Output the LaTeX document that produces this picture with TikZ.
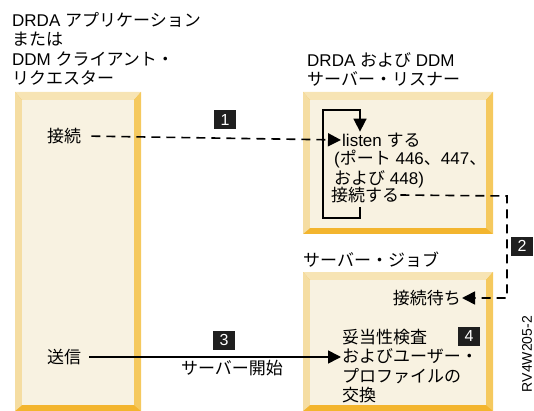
\documentclass[tikz,border=0pt]{standalone}
\usepackage{fontspec}
\setmainfont{Liberation Sans}
\newfontfamily\jpfont{Noto Sans CJK JP}
\newcommand{\jp}[1]{{\jpfont #1}}
\usetikzlibrary{arrows.meta}
\definecolor{bevtop}{HTML}{F7E4B4}
\definecolor{bevleft}{HTML}{F5DDA2}
\definecolor{bevright}{HTML}{F5C95E}
\definecolor{bevbottom}{HTML}{F3B52E}
\definecolor{boxin}{HTML}{F8F2E1}
\tikzstyle{txt} = [inner sep=1pt, font={\fontsize{17}{19.5}\selectfont}, align=left]
\tikzstyle{badge} = [fill=black!88, text=white, minimum width=22, minimum height=19, inner sep=0pt, font={\fontsize{16}{16}\selectfont}]
\tikzstyle{wire} = [line width=1.6pt]
\tikzstyle{dashline} = [wire, dash pattern=on 9pt off 6pt]
\tikzstyle{arrtip} = [-{Triangle[length=13pt,width=13pt]}]
% bevelled box: x1 y1 x2 y2
\newcommand{\bevelbox}[4]{%
  \fill[bevbottom] (#1,#2) rectangle (#3,#4);
  \fill[bevtop] (#1,#2) -- (#3,#2) -- (#3-7,#2+8) -- (#1+7,#2+8) -- cycle;
  \fill[bevleft] (#1,#2) -- (#1+7,#2+8) -- (#1+7,#4-6) -- (#1,#4) -- cycle;
  \fill[bevright] (#3,#2) -- (#3-7,#2+8) -- (#3-7,#4-6) -- (#3,#4) -- cycle;
  \fill[boxin] (#1+7,#2+8) rectangle (#3-7,#4-6);}

\begin{document}
\begin{tikzpicture}[x=1pt,y=-1pt]
    \useasboundingbox (0,0) rectangle (534,411);
    \bevelbox{15}{92}{141}{411}
    \bevelbox{303}{92}{493}{234}
    \bevelbox{303}{272}{493}{411}
    % titles
    \node[txt,anchor=north west](client) at (11,11){DRDA \jp{アプリケーション}\\\jp{または}\\DDM \jp{クライアント・}\\\jp{リクエスター}};
    \node[txt,anchor=north west](listener) at (306,51){DRDA \jp{および} DDM\\\jp{サーバー・リスナー}};
    \node[txt,anchor=west](job) at (302,260){\jp{サーバー・ジョブ}};
    % texts
    \node[txt,anchor=west](conn) at (46,136){\jp{接続}};
    \node[txt,anchor=west](send) at (46,357){\jp{送信}};
    \node[txt,anchor=west](listen) at (341,140){listen \jp{する}};
    \node[txt,anchor=north west](port) at (333,149){(\jp{ポート} 446\jp{、}447\jp{、}\\\jp{および} 448)};
    \node[txt,anchor=west](accept) at (330,195){\jp{接続する}};
    \node[txt,anchor=east](wait) at (462,298){\jp{接続待ち}};
    \node[txt,anchor=north west](check) at (341,328){\jp{妥当性検査}\\\jp{およびユーザー・}\\\jp{プロファイルの}\\\jp{交換}};
    \node[txt](start) at (232,368){\jp{サーバー開始}};
    \node[txt,rotate=90,font={\fontsize{14}{14}\selectfont}](fig) at (527,354){RV4W205-2};
    % badges
    \node[badge](b1) at (225,120){1};
    \node[badge](b2) at (522,246){2};
    \node[badge](b3) at (224,340){3};
    \node[badge](b4) at (469,336){4};
    % listen loop
    \coordinate (l1) at (360,207);
    \coordinate (l2) at (323,218);
    \coordinate (l3) at (323,110);
    \coordinate (l4) at (360,110);
    \draw[wire,arrtip] (l1) |- (l2) -- (l3) -- (l4) -- (l4 |- listen.north);
    % connectors
    \draw[dashline,arrtip,shorten <=9pt] (conn.east) -- (listen.west);
    \coordinate (c2) at (507,196);
    \draw[dashline,arrtip] (accept.east) -- (c2) |- (wait.east);
    \draw[wire,arrtip,shorten <=7pt] (send.east) -- (send.east -| check.west);
\end{tikzpicture}
\end{document}
